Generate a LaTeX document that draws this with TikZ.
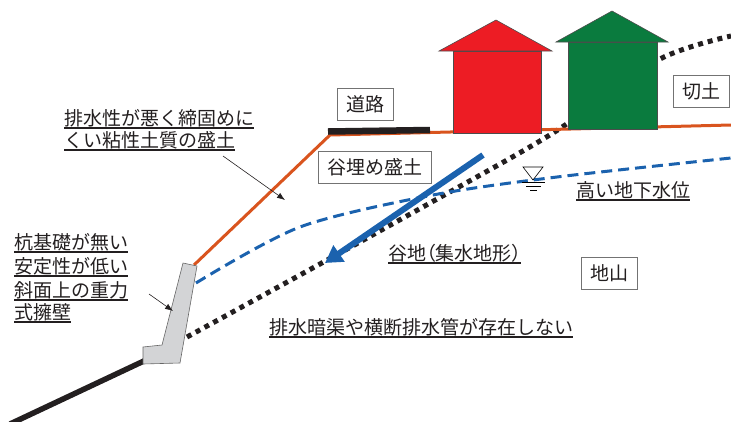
\documentclass[tikz,border=0pt]{standalone}
\usepackage{fontspec}
\setmainfont{Noto Sans CJK JP}
\newfontfamily\jpnarrow{Noto Sans CJK JP}[RawFeature=+palt]
\usepackage{xcolor}
\usepackage{tikz}
\usetikzlibrary{arrows.meta}

\definecolor{houseRed}{HTML}{ED1C24}
\definecolor{houseGreen}{HTML}{0A7B3E}
\definecolor{fillOrange}{HTML}{D9541E}
\definecolor{waterBlue}{HTML}{1B62AE}
\definecolor{wallGray}{HTML}{D3D4D6}
\definecolor{inkBlack}{HTML}{231F20}

\tikzset{
  labelbox/.style={draw=black!55, fill=white, line width=0.8pt, minimum height=32pt,
    inner xsep=9pt, text=inkBlack, font=\fontsize{19}{19}\selectfont},
  note/.style={anchor=base west, inner xsep=0pt, inner ysep=0pt, text=inkBlack,
    font=\fontsize{19}{19}\selectfont},
  underbar/.style={line width=2.3pt, inkBlack},
  pointer/.style={-{Latex[length=8pt,width=6pt]}, line width=0.6pt, inkBlack},
  house/.style={draw=black!70, line width=0.6pt},
  bedrock/.style={line width=5pt, inkBlack, dash pattern=on 5pt off 5pt},
  watertable/.style={line width=3pt, waterBlue, dash pattern=on 11pt off 6pt},
}

\begin{document}
\begin{tikzpicture}[x=1pt, y=-1pt]
\useasboundingbox (0,0) rectangle (731,421);

% Boundary of the original ground (dotted)
\draw[bedrock] plot[smooth] coordinates {(187,337) (300,275) (430,203) (553,133) (658,60) (731,36)};

% Ground water level
\draw[watertable] plot[smooth] coordinates {(196,283) (300,227) (433,195) (557,177) (731,158)};
\draw[line width=0.6pt] (523,167) -- (543,167) -- (533,180) -- cycle;
\draw[line width=0.6pt] (522,182) -- (545,182);
\draw[line width=0.6pt] (526,186) -- (541,186);
\draw[line width=0.6pt] (530,190) -- (537,190);

% Fill slope and surface
\draw[fillOrange, line width=3pt] (194,265) -- (330,135) -- (731,125);
\draw[inkBlack, line width=6.5pt] (328,131.5) -- (430,130);

% Houses
\draw[house, fill=houseRed] (453,51) rectangle (541,133);
\draw[house, fill=houseRed] (439,51) -- (496,20) -- (552,51) -- cycle;
\draw[house, fill=houseGreen] (568,42) rectangle (657,129);
\draw[house, fill=houseGreen] (556,42) -- (612,11) -- (668,42) -- cycle;

% Toe of slope and retaining wall
\draw[inkBlack, line width=5.5pt] (10,424) -- (146,360);
\draw[fill=wallGray, draw=black!60, line width=0.6pt]
  (143,347) -- (162,345) -- (183,263) -- (197,266) -- (180,363) -- (143,364) -- cycle;

% Flow into the valley
\draw[waterBlue, line width=6pt, -{Triangle[length=17pt,width=19pt]}] (483,155) -- (325,263);

% Boxed labels
\node[labelbox] (road) at (365,104) {道路};
\node[labelbox] (valleyfill) at (375,167) {谷埋め盛土};
\node[labelbox] (cut) at (701,91) {切土};
\node[labelbox] (ground) at (609,273) {地山};

% Underlined notes
\node[note] (clayA) at (64,125) {排水性が悪く締固めに};
\node[note] (clayB) at (64,147) {くい粘性土質の盛土};
\node[note] (wallA) at (14,249) {杭基礎が無い};
\node[note] (wallB) at (14,273) {安定性が低い};
\node[note] (wallC) at (14,297) {斜面上の重力};
\node[note] (wallD) at (14,319) {式擁壁};
\node[note] (valley) at (388,260) {\jpnarrow 谷地（集水地形）};
\node[note] (highwater) at (576,197) {高い地下水位};
\node[note] (nodrain) at (269,334) {排水暗渠や横断排水管が存在しない};
\foreach \n in {clayA,clayB,wallA,wallB,wallC,wallD,valley,highwater,nodrain}
  \draw[underbar] ([yshift=-3pt]\n.base west) -- ([yshift=-3pt]\n.base east);

% Leaders
\coordinate (clayFrom) at (223,156);
\coordinate (clayTo) at (285,200);
\coordinate (wallFrom) at (149,294);
\coordinate (wallTo) at (173,311);
\draw[pointer] (clayFrom) -- (clayTo);
\draw[pointer] (wallFrom) -- (wallTo);
\end{tikzpicture}
\end{document}
